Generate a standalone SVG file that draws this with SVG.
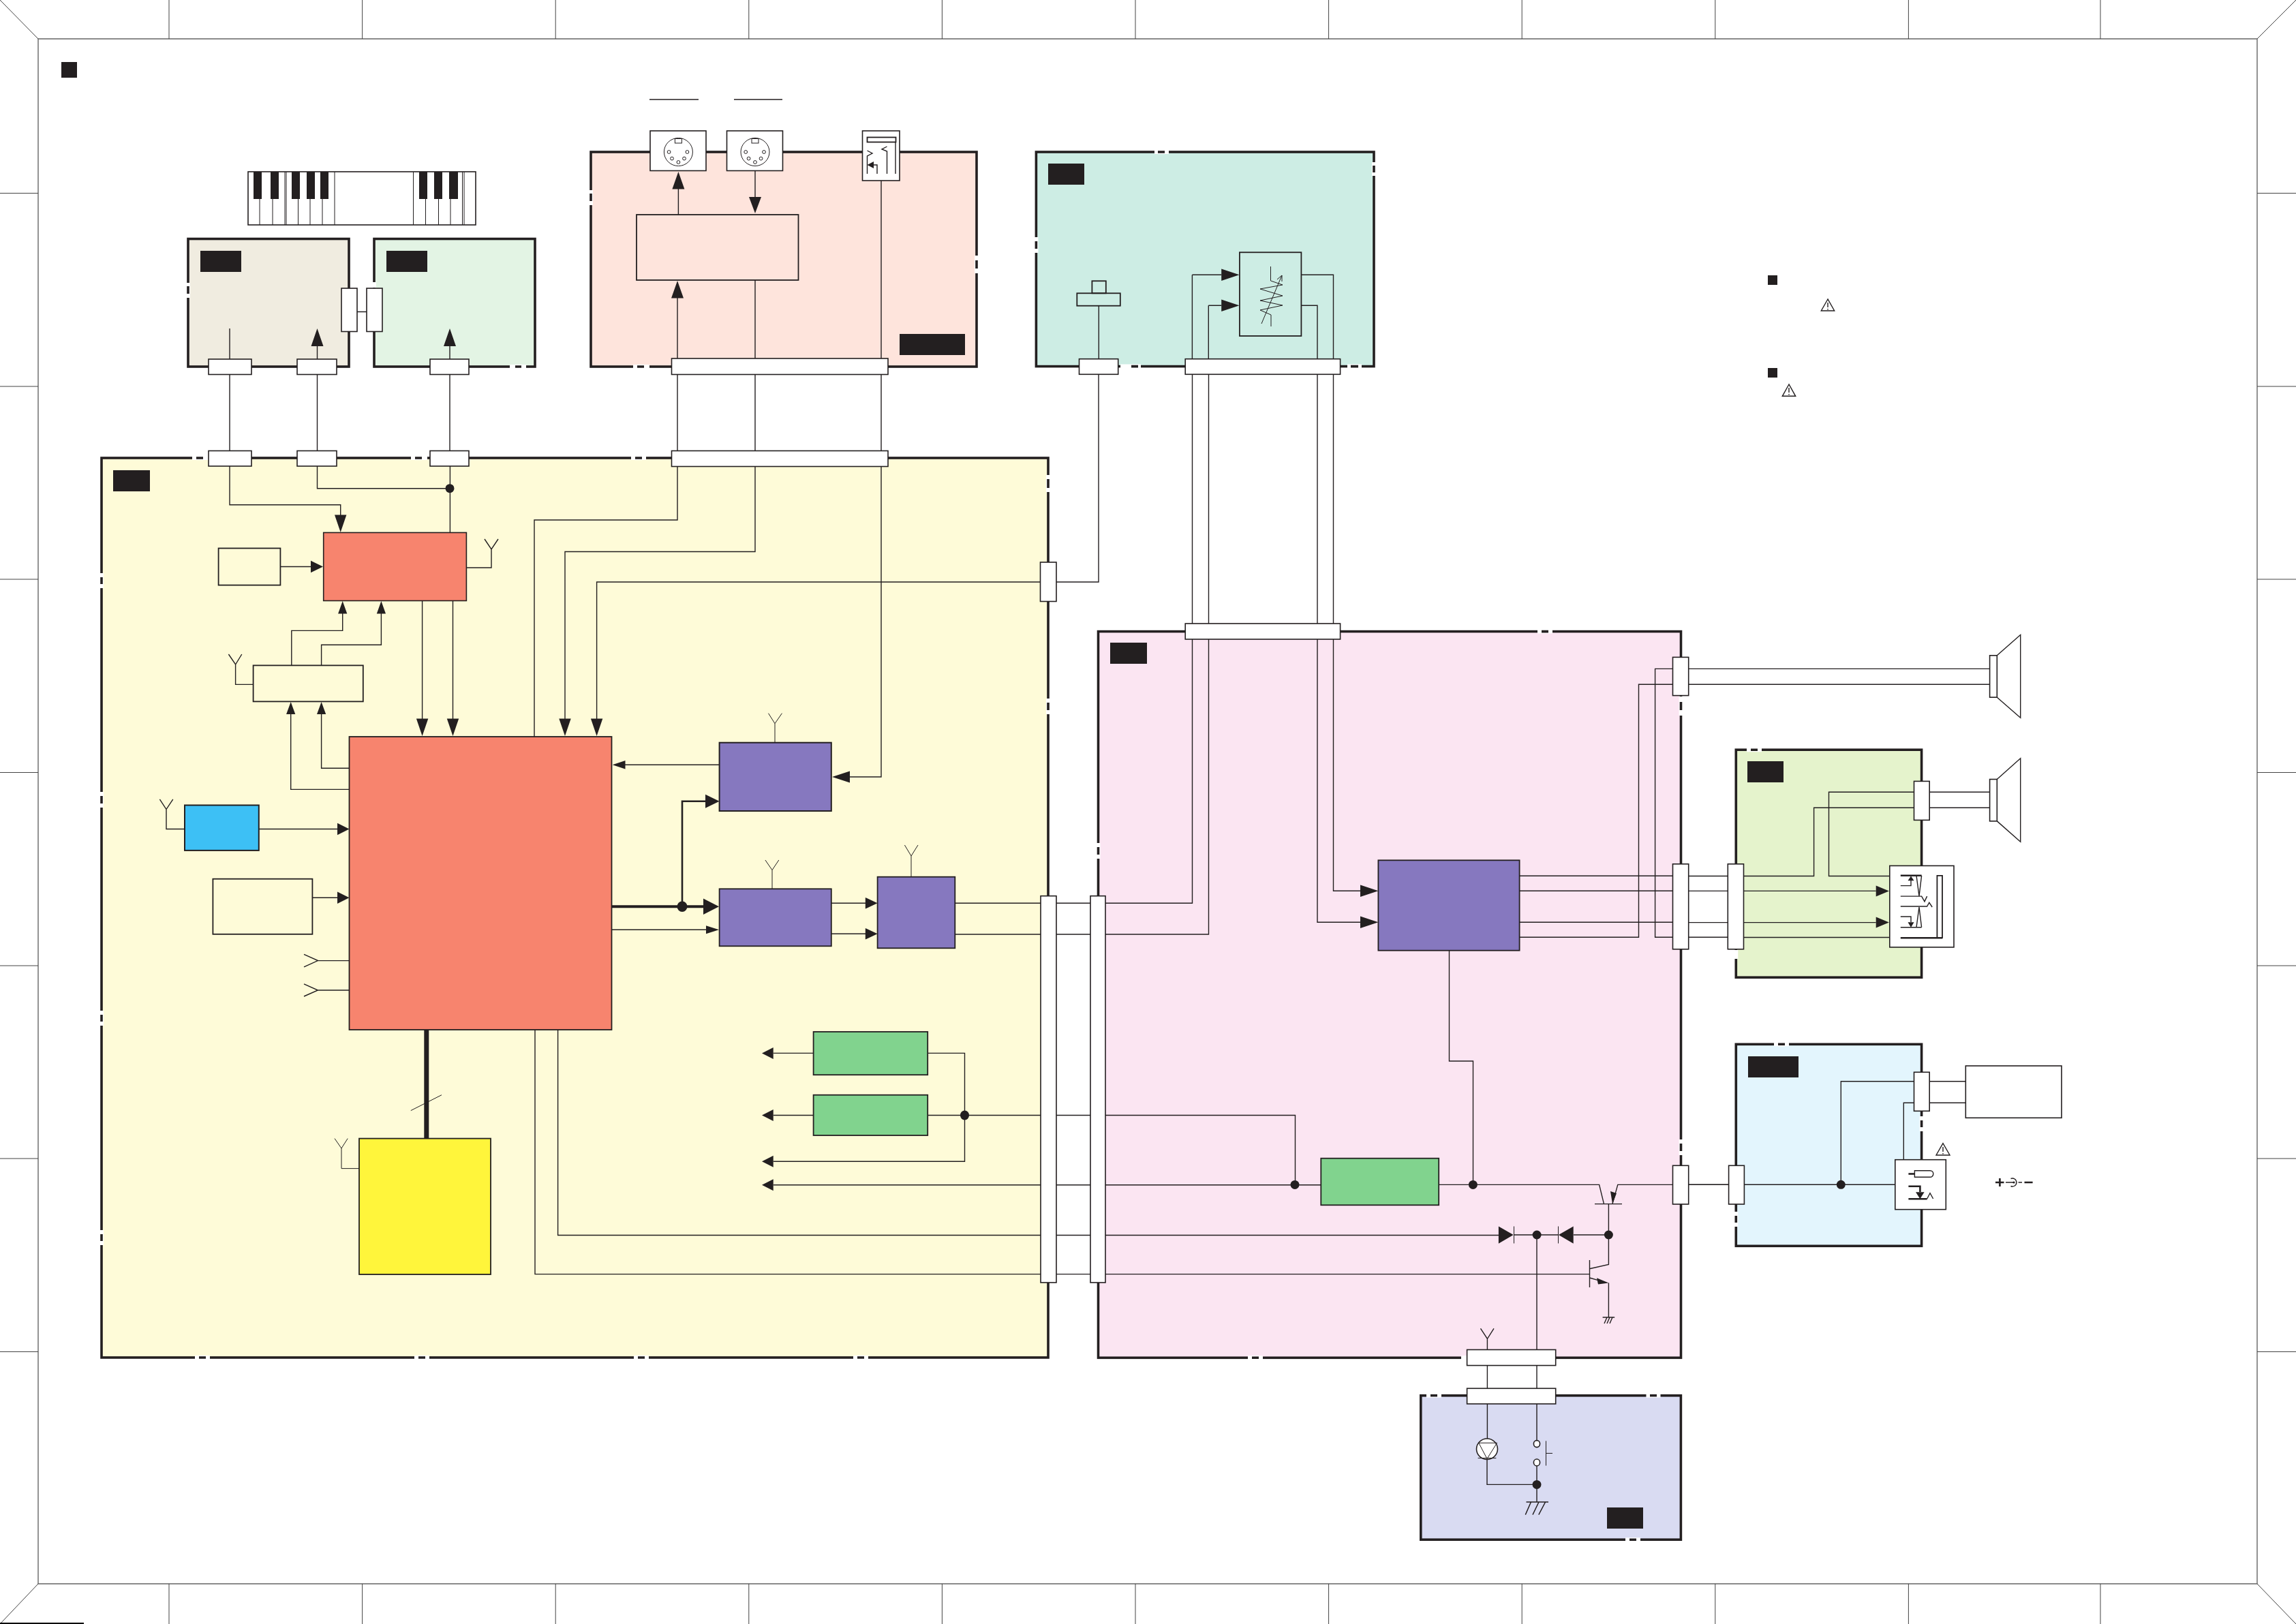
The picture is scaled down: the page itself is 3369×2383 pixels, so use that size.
<svg xmlns="http://www.w3.org/2000/svg" width="3369" height="2383" viewBox="0 0 3369 2383">
<style>
.f{fill:none;stroke:#666;stroke-width:1.4}
.t{fill:none;stroke:#444;stroke-width:1}
.p{stroke:#231f20;stroke-width:3.6}
.b{stroke:#231f20;stroke-width:1.6;fill:#fff}
.bn{stroke:#231f20;stroke-width:1.8;fill:none}
.l{fill:none;stroke:#231f20;stroke-width:1.4}
.h{fill:none;stroke:#231f20;stroke-width:1}
.k{fill:#231f20}
.gw{fill:none;stroke:#fff;stroke-width:6}
.gd{fill:none;stroke:#231f20;stroke-width:3.6}
.w2{fill:none;stroke:#231f20;stroke-width:2.6}
.w3{fill:none;stroke:#231f20;stroke-width:4}
.w7{fill:none;stroke:#231f20;stroke-width:7}
.pu{fill:#8678bf}.gr{fill:#81d38e}.sa{fill:#f7846e}
</style>
<g id="sheet-frame">
<path class="f" d="M56 57H3312V2324H56Z"/>
<path class="t" d="M0 0L56 57M3369 0L3312 57M0 2383L56 2324M3369 2383L3312 2324"/>
<path class="t" d="M248 0V57M531.6 0V57M815.2 0V57M1098.8 0V57M1382.4 0V57M1666 0V57M1949.6 0V57M2233.2 0V57M2516.8 0V57M2800.4 0V57M3082 0V57"/>
<path class="t" d="M248 2324V2383M531.6 2324V2383M815.2 2324V2383M1098.8 2324V2383M1382.4 2324V2383M1666 2324V2383M1949.6 2324V2383M2233.2 2324V2383M2516.8 2324V2383M2800.4 2324V2383M3082 2324V2383"/>
<path class="t" d="M0 283.5H56M0 567H56M0 850H56M0 1133.5H56M0 1417H56M0 1700H56M0 1983.5H56"/>
<path class="t" d="M3312 283.5H3369M3312 567H3369M3312 850H3369M3312 1133.5H3369M3312 1417H3369M3312 1700H3369M3312 1983.5H3369"/>
<path stroke="#000" stroke-width="2" d="M0 2382H123"/>
<rect class="k" x="90" y="91" width="23" height="23"/>
<rect class="k" x="2594" y="404" width="14" height="14"/>
<rect class="k" x="2594" y="540" width="14" height="14"/>
<path class="l" d="M2682 439L2672.3 456H2691.7Z"/><path class="l" d="M2682 444V451M2682 453V454.5"/>
<path class="l" d="M2625 564L2615.3 581.3H2634.7Z"/><path class="l" d="M2625 569V576M2625 578V579.5"/>
<path class="l" d="M953 146H1025M1077 146H1148"/>
</g>
<g id="keyboard">
<rect class="b" x="364" y="252" width="334" height="78"/>
<path class="h" d="M381 292V330M400 292V330M418 252V330M420 252V330M437.5 292V330M455 292V330M473 292V330M491 252V330M606.5 252V330M624.5 292V330M643.5 292V330M661 292V330M678.5 252V330M681 252V330"/>
<path class="k" d="M372 252h12v40h-12zM397 252h12v40h-12zM428 252h12v40h-12zM450 252h12v40h-12zM470 252h12v40h-12zM615 252h12v40h-12zM637 252h12v40h-12zM659 252h13v40h-13z"/>
</g>
<g id="panels">
<g id="panel-main"><rect class="p" x="149" y="672" width="1389" height="1320" fill="#fefbd8"/><rect class="k" x="166" y="690" width="54" height="31"/></g>
<g id="panel-key-a"><rect class="p" x="276" y="350.5" width="236" height="187.5" fill="#f0ece0"/><rect class="k" x="294" y="368" width="60" height="31"/></g>
<g id="panel-key-b"><rect class="p" x="549" y="350.5" width="236" height="187.5" fill="#e3f4e4"/><rect class="k" x="567" y="368" width="60" height="31"/></g>
<g id="panel-midi"><rect class="p" x="867" y="223" width="566" height="315" fill="#fee4dc"/><rect class="k" x="1320" y="490" width="96" height="31"/></g>
<g id="panel-volume"><rect class="p" x="1520.4" y="223" width="495.6" height="314.6" fill="#cdede4"/><rect class="k" x="1538" y="240" width="53" height="31"/></g>
<g id="panel-power-amp"><rect class="p" x="1611.5" y="926.6" width="855" height="1065.7" fill="#fbe5f2"/><rect class="k" x="1629" y="943" width="54" height="31"/></g>
<g id="panel-speaker"><rect class="p" x="2547.3" y="1100.2" width="272.3" height="334" fill="#e5f3cc"/><rect class="k" x="2564" y="1117" width="53" height="31"/></g>
<g id="panel-dc"><rect class="p" x="2547.3" y="1532.3" width="272.3" height="296" fill="#e3f5fd"/><rect class="k" x="2565" y="1550" width="74" height="31"/></g>
<g id="panel-switch"><rect class="p" x="2084.8" y="2047.8" width="381.6" height="211.4" fill="#d9dbf2"/><rect class="k" x="2358" y="2212" width="53" height="31"/></g>
<path class="gw" d="M282 672h24M603 672h24M926 672h22M1538 697v25M1538 1025v23M149 841v22M149 1162v23M149 1483v22M149 1805v22M286 1992h22M608 1992h22M930 1992h22M1252 1992h22
M276 415v22M748 538h24M549 414v8M929 538h24M867 279v22M1433 375v26M1644 537.6h30M1977 537.6h21M1694 223h21M1520.4 348v23M2016 238v20
M2256 926.6h22M1831 1992.3h22M2144 1992.3h8M1611.5 1237v23M2466.5 1022v28M2466.5 1672v23
M2563 1100.2h22M2547.3 1394v13M2603 1532.3h22M2819.6 1638v22M2547.3 1778v22
M2093 2047.8h22M2415.5 2047.8h21M2385 2259.2h22"/>
<path class="gd" d="M288 672h10M609 672h10M932 672h10M1538 703v13M1538 1031v11M149 847v10M149 1168v11M149 1489v10M149 1811v10M292 1992h10M614 1992h10M936 1992h10M1258 1992h10
M276 420v11M756 538h9M935 538h10M867 284v11M1433 382v12M1660 537.6h10M1982 537.6h11M1699 223h10M1520.4 354v11M2016 243v10
M2262 926.6h10M1837 1992.3h10M1611.5 1243v11M2466.5 1030v12M2466.5 1678v11
M2569 1100.2h10M2609 1532.3h10M2819.6 1644v10M2547.3 1784v10
M2099 2047.8h10M2421 2047.8h10M2391 2259.2h10"/>
</g>
<g id="connectors">
<path class="l" d="M337 482V661.5M465.5 508V661.5M660 508V661.5M524 457.5H538"/>
<path class="l" d="M337 684V740.7H499.7V756M465.5 684V716.7H660M660.4 684V781.5"/>
<path class="l" d="M995.4 277V315M1108 250V289M994 437V661.5M1108 411V661.5M1293 265V1140H1247"/>
<path class="l" d="M994 684V763H784V1081M1108 684V809.5H829V1055M1612 549V854H875.6V1055"/>
<path class="l" d="M411 831.5H456M684.4 833H721V806M711 791L721 806L731 791"/>
<path class="l" d="M619.6 881V1055M664.5 881V1055"/>
<path class="l" d="M427.8 976V925.4H502.7V900M471.6 976V946.3H559.4V900"/>
<path class="l" d="M371.6 1004.4H345.6V975M335.4 960L345.6 975L354.8 960"/>
<path class="l" d="M512.5 1158.4H426.7V1048M512.5 1127.3H471.6V1048"/>
<path class="l" d="M271 1216.5H244V1187.6M234.4 1172.9L244 1187.6L253.8 1172.9M380 1216.5H495M458 1317.2H495"/>
<path class="l" d="M512.5 1409.6H466.5M446 1400.4L466.5 1409.6L446 1418.8M512.5 1453H466.5M446 1443.8L466.5 1453L446 1462"/>
<path class="l" d="M917 1122.3H1055.6"/>
<path class="h" d="M1137 1089.7V1061.7M1127.5 1046.7L1137 1061.7L1147.4 1046.7M1133 1304V1276.7M1122.9 1262L1133 1276.7L1142.8 1262M1337 1286.7V1256M1327.4 1240L1337 1256L1347 1240"/>
<path class="w3" d="M897.6 1330.3H1032"/>
<path class="w2" d="M1001 1330.3V1175.7H1035"/>
<path class="l" d="M897.6 1364.3H1036M1219.8 1325.3H1270M1219.8 1370.3H1270"/>
<path class="l" d="M1401 1325.3H1749.5V549M1401 1371H1773.5V549"/>
<path class="l" d="M1749.4 403.3V527M1749.4 403.3H1792.2M1773.3 448.3V527M1773.3 448.3H1792.2M1909.4 403.3H1956.5V1307.3H1996M1909.4 448.3H1933V1353.3H1996"/>
<path class="l" d="M1612.3 448.7V527"/>
<path class="w7" d="M625.8 1511V1670"/>
<path class="h" d="M602.8 1629.6L648 1606.7"/>
<path class="h" d="M527 1714.6H501V1685M491 1670.6L501 1685L510.2 1670.6"/>
<path class="l" d="M1193.6 1545.4H1134.7M1361.2 1545.4H1415.5V1704.2H1134.7M1193.6 1636.5H1134.7M1361.2 1636.5H1900.5V1738.4M1134.7 1738.7H1938.3"/>
<path class="l" d="M785 1511V1869.6H2332.5M818.6 1511V1812.5H2199M2221 1812H2287M2309 1812H2360.4"/>
<path class="l" d="M2111.2 1738.4H2346.6L2353.5 1766.6M2366 1766.6L2373.8 1738.4H2536.6M2340 1766.6H2380M2126.5 1394.7V1557H2161.5V1738.4"/>
<path class="l" d="M2360.4 1766.6V1855.5L2332.5 1861.8M2332.5 1849V1889M2332.5 1875L2345 1878.6M2360.4 1882.4V1933M2351.6 1933H2369.2M2354 1942L2358 1933M2358 1942L2362 1933M2362 1942L2366 1933"/>
<path class="k" d="M2360.4 1882.4L2343 1875.2L2345 1884.6ZM2366 1766.6L2363 1748L2372 1751Z"/>
<path class="l" d="M2255 1812V1980.5M2255 2003V2037.5M2182.4 2003V2037.5M2182.4 1980.5V1964.5M2172.5 1949.3L2182.4 1964.5L2192 1949.3"/>
<path class="l" d="M2182.4 2060V2111M2255 2060V2113.5M2182 2141V2178.4H2255M2255 2151V2204M2239.5 2204H2272M2246.3 2204.4L2238.3 2222.6M2257.8 2204.4L2249 2222.6M2267.4 2204.4L2257.8 2222.6"/>
<path class="l" d="M2229.6 1285.3H2454.6M2229.6 1307.3H2454.6M2229.6 1353.3H2454.6M2229.6 1375.3H2404.5V1004.3H2919.6M2535 1375.3H2428.6V981.4H2919.6"/>
<path class="l" d="M2477.7 1285.5H2535.3M2477.7 1307.4H2535.3M2477.7 1353.6H2535.3"/>
<path class="l" d="M2558.5 1285.5H2661.6V1185.3H2919.6M2772.8 1285.5H2683.5V1162.3H2919.6M2558.5 1307.4H2752.7M2558.5 1353.6H2752.7M2558.5 1375.5H2772.8"/>
<path class="l" d="M2477.7 1738.3H2780.8M2701.3 1738.3V1586.7H2884.3M2793.3 1701.7V1618.3H2884.3"/>
<g class="k">
<path d="M465.5 482L456.5 508H474.5ZM660 482L651 508H669ZM499.7 781L491 755.5H508.4ZM474 831.5L456 822.8V840.2Z"/>
<path d="M619.6 1080L610.9 1054.5H628.3ZM664.5 1080L655.8 1054.5H673.2ZM829 1080L820.3 1054.5H837.7ZM875.6 1080L866.9 1054.5H884.3Z"/>
<path d="M502.7 882L496.1 900.4H509.3ZM559.4 882L552.8 900.4H566ZM426.7 1030L420.1 1048H433.3ZM471.6 1030L465 1048H478.2Z"/>
<path d="M512.5 1216.5L495 1207.8V1225.2ZM512.5 1317.2L495 1308.5V1325.9ZM898.7 1122.3L917.5 1116V1128.6Z"/>
<path d="M1055.6 1175.7L1035 1165.7V1185.7ZM1055 1330.3L1032 1318.6V1342ZM1055 1364.3L1036 1358.3V1370.3ZM1221 1140L1247 1131.5V1148.5Z"/>
<path d="M1287.6 1325.3L1269.8 1317V1333.6ZM1287.6 1370.3L1269.8 1362V1378.6Z"/>
<path d="M995.4 252L986.4 277.5H1004.4ZM1108 313L1099 289H1117ZM994 412L985 437.6H1003Z"/>
<path d="M1818.5 403.3L1792.2 394.6V412ZM1818.5 448.3L1792.2 439.6V457Z"/>
<path d="M2022.4 1307.3L1996 1298.6V1316ZM2022.4 1353.3L1996 1344.6V1362ZM2771.9 1307.4L2752.7 1299.4V1315.4ZM2771.9 1353.6L2752.7 1345.6V1361.6Z"/>
<path d="M1118 1545.4L1134.7 1536.9V1553.9ZM1118 1636.5L1134.7 1628V1645ZM1118 1704.2L1134.7 1695.7V1712.7ZM1118 1738.7L1134.7 1730.2V1747.2Z"/>
<path d="M2198.9 1799.5L2220.7 1812L2198.9 1824.7ZM2308.7 1799.5L2286.9 1812L2308.7 1824.7Z"/>
<circle cx="660" cy="716.7" r="6.5"/>
<ellipse cx="1001" cy="1330.3" rx="7.5" ry="7.7"/>
<ellipse cx="1415.5" cy="1636.5" rx="6.5" ry="7"/>
<circle cx="1900" cy="1738.4" r="6.5"/><circle cx="2161.4" cy="1738.4" r="6.5"/>
<circle cx="2255.1" cy="1812" r="6.5"/><circle cx="2360.4" cy="1812" r="6.5"/>
<circle cx="2255" cy="2178.4" r="6.5"/><circle cx="2701.3" cy="1738.3" r="6.5"/>
</g>
<path class="h" d="M2221.5 1799.5V1824.5M2286.5 1799.5V1824.5"/>
</g>
<g id="connector-blocks">
<rect class="b" x="501" y="423" width="23" height="63.5"/><rect class="b" x="538" y="423" width="23" height="63.5"/>
<rect class="b" x="306" y="527" width="63" height="22.5"/><rect class="b" x="436" y="527" width="58" height="22.5"/><rect class="b" x="631" y="527" width="57" height="22.5"/>
<rect class="b" x="306" y="661.5" width="63" height="22.5"/><rect class="b" x="436" y="661.5" width="58" height="22.5"/><rect class="b" x="631" y="661.5" width="57" height="22.5"/>
<rect class="b" x="985.5" y="526" width="317.5" height="23.5"/><rect class="b" x="985.5" y="661.5" width="317.5" height="23"/>
<rect class="b" x="1583.5" y="526.7" width="57.2" height="22.6"/><rect class="b" x="1739.2" y="526.7" width="227.4" height="22.6"/>
<rect class="b" x="1739.2" y="915" width="227.4" height="23"/>
<rect class="b" x="1526.5" y="825" width="23.5" height="57.5"/>
<rect class="b" x="1527" y="1314.7" width="23" height="567.3"/><rect class="b" x="1600" y="1314.7" width="22" height="567.3"/>
<rect class="b" x="2454.5" y="964.4" width="23.2" height="56.2"/><rect class="b" x="2454.5" y="1267.8" width="23.2" height="125"/><rect class="b" x="2535.3" y="1267.8" width="23.2" height="125"/>
<rect class="b" x="2808.5" y="1146.4" width="22.7" height="57"/><rect class="b" x="2808.5" y="1573.3" width="22.7" height="57"/>
<rect class="b" x="2454.5" y="1710.3" width="23.2" height="56.7"/><rect class="b" x="2536.6" y="1710.3" width="22.8" height="56.7"/>
<rect class="b" x="2152.6" y="1980.5" width="130.1" height="23.1"/><rect class="b" x="2152.6" y="2037.3" width="130.1" height="22.7"/>
</g>
<g id="midi-out"><rect class="b" x="954" y="192" width="82" height="58.5"/><ellipse class="h" cx="995.4" cy="223" rx="21" ry="20.5"/><rect class="h" x="990.4" y="203.5" width="10" height="6.5"/><g class="h"><circle cx="981.6" cy="223" r="2.4"/><circle cx="1008.4" cy="223" r="2.4"/><circle cx="986" cy="232.6" r="2.4"/><circle cx="1004" cy="232.6" r="2.4"/><circle cx="995.4" cy="238" r="2.4"/></g></g>
<g id="midi-in"><rect class="b" x="1066.5" y="192" width="82" height="58.5"/><ellipse class="h" cx="1108" cy="223" rx="21" ry="20.5"/><rect class="h" x="1103" y="203.5" width="10" height="6.5"/><g class="h"><circle cx="1094.2" cy="223" r="2.4"/><circle cx="1121" cy="223" r="2.4"/><circle cx="1098.6" cy="232.6" r="2.4"/><circle cx="1116.6" cy="232.6" r="2.4"/><circle cx="1108" cy="238" r="2.4"/></g></g>
<g id="pedal-jack"><rect class="b" x="1265.5" y="192" width="54.5" height="73"/><rect class="bn" x="1272.5" y="201.5" width="42" height="7"/><path class="l" d="M1272.5 221L1280 225L1272.5 229V255M1282 242H1287V255M1301.5 215L1294 219L1301.5 222V255M1314 208V255"/><path class="k" d="M1272.5 242L1282 237V247Z"/></g>
<g id="midi-interface"><rect class="bn" x="934" y="315" width="237.5" height="96"/></g>
<g id="slider-pot"><rect class="bn" x="1602.4" y="412.3" width="20.4" height="18"/><rect class="bn" x="1580.3" y="430.3" width="63.5" height="18.4"/></g>
<g id="volume-pot"><rect class="bn" x="1818.9" y="370.3" width="90.5" height="122.7"/><path class="h" d="M1864.5 391V412L1882 418L1849 424L1882 434L1849 441L1882 448L1849 455L1865 462V479"/><path class="h" d="M1851 475L1881 404M1874 410L1881 404L1881 413"/></g>
<g id="ic-sub"><rect x="474.7" y="781.5" width="209.7" height="100" class="sa" stroke="#231f20" stroke-width="1.6"/></g>
<g id="ic-small-left"><rect class="bn" x="320.6" y="804.5" width="90.8" height="54.1"/></g>
<g id="ic-mid-left"><rect class="bn" x="371.6" y="976.4" width="161.2" height="53"/></g>
<g id="ic-main-cpu"><rect x="512.5" y="1081" width="385" height="430" class="sa" stroke="#231f20" stroke-width="1.8"/></g>
<g id="ic-blue"><rect x="271" y="1181.5" width="108.8" height="66.4" fill="#3dc0f5" stroke="#231f20" stroke-width="2"/></g>
<g id="ic-white"><rect class="bn" x="312.4" y="1289.7" width="146" height="81.1"/></g>
<g id="ic-rom"><rect x="527" y="1670.6" width="193" height="199.4" fill="#fff53b" stroke="#231f20" stroke-width="1.8"/></g>
<g id="ic-purple-1"><rect x="1055.6" y="1089.7" width="164.2" height="100.3" class="pu" stroke="#231f20" stroke-width="2"/></g>
<g id="ic-purple-2"><rect x="1055.6" y="1304.3" width="164.2" height="84" class="pu" stroke="#231f20" stroke-width="1.8"/></g>
<g id="ic-purple-3"><rect x="1287.6" y="1286.7" width="113.7" height="104.6" class="pu" stroke="#231f20" stroke-width="1.8"/></g>
<g id="ic-purple-amp"><rect x="2022.4" y="1262.3" width="207.2" height="132.4" class="pu" stroke="#231f20" stroke-width="1.8"/></g>
<g id="reg-green-1"><rect x="1193.6" y="1514" width="167.6" height="63.2" class="gr" stroke="#231f20" stroke-width="1.8"/></g>
<g id="reg-green-2"><rect x="1193.6" y="1606.7" width="167.6" height="59.3" class="gr" stroke="#231f20" stroke-width="1.8"/></g>
<g id="reg-green-3"><rect x="1938.3" y="1699.7" width="172.9" height="68.6" class="gr" stroke="#231f20" stroke-width="1.8"/></g>
<g id="speaker-1"><rect class="b" x="2919.6" y="961.8" width="10.7" height="61.4"/><path class="l" d="M2930.3 961.8L2964.7 931.5V1053.2L2930.3 1023.2"/></g>
<g id="speaker-2"><rect class="b" x="2919.6" y="1143.5" width="10.7" height="61.4"/><path class="l" d="M2930.3 1143.5L2964.7 1112.8V1235.2L2930.3 1204.9"/></g>
<g id="phones-jack"><rect class="b" x="2772.8" y="1270.4" width="94.2" height="119.5"/>
<path class="bn" d="M2842.4 1284.8H2850V1376.2H2842.4Z"/><path class="w2" d="M2788.8 1376.2H2850M2788.8 1284.8H2819.6"/>
<path class="l" d="M2788.8 1315.1H2816M2788.8 1299.6H2804V1292M2788.8 1330H2827.6L2830.8 1324.4L2835.2 1331M2788.8 1345H2804V1353M2788.8 1360.7H2819.6M2812 1284.8L2816 1315L2819.6 1284.8M2816 1315.1H2819.6L2824 1322.9L2827.6 1315.1M2816 1331L2812 1360.7M2816 1331L2819.6 1360.7"/>
<path class="k" d="M2804 1285.5L2799.5 1292.2H2808.5ZM2804 1360.7L2799.5 1353.3H2808.5Z"/></g>
<g id="ac-adapter"><rect class="b" x="2884.3" y="1564" width="140.7" height="76.3"/></g>
<g id="dc-jack"><rect class="b" x="2780.8" y="1701.7" width="74.5" height="73"/>
<path class="w2" d="M2800.4 1722.5H2809.4"/><path class="l" d="M2809.4 1717.7H2832a4.8 4.8 0 0 1 0 9.6H2809.4Z"/>
<path class="w2" d="M2800.4 1740.7H2817.4V1749M2800.4 1759.3H2827.7"/><path class="l" d="M2827.7 1759L2832 1750.7L2836.6 1759"/>
<path class="k" d="M2817.4 1759.3L2811 1749.3H2823.6Z"/>
<path class="l" d="M2851 1677.7L2841 1695H2861Z"/><path class="l" d="M2851 1683V1690M2851 1692V1693.5"/></g>
<g id="polarity"><path class="w2" d="M2934.4 1729V1741M2928 1735H2940.5M2970.5 1735H2982.6"/><path class="l" d="M2943 1735H2955M2961.6 1735H2967M2950.5 1729.5A6 6 0 1 1 2950.5 1740.5"/><circle class="k" cx="2955" cy="1735" r="1.6"/></g>
<g id="power-led"><ellipse class="b" cx="2182" cy="2126.2" rx="15.5" ry="15.2"/><path class="h" d="M2169.8 2117.3H2196.6L2182 2140.5ZM2168.6 2139.6H2195.4"/></g>
<g id="power-switch"><ellipse class="b" cx="2255" cy="2118.6" rx="4.6" ry="5"/><ellipse class="b" cx="2255" cy="2146" rx="4.6" ry="5"/><path class="h" d="M2268.5 2114.4V2150.6M2268.5 2132.5H2278"/></g>
</svg>
